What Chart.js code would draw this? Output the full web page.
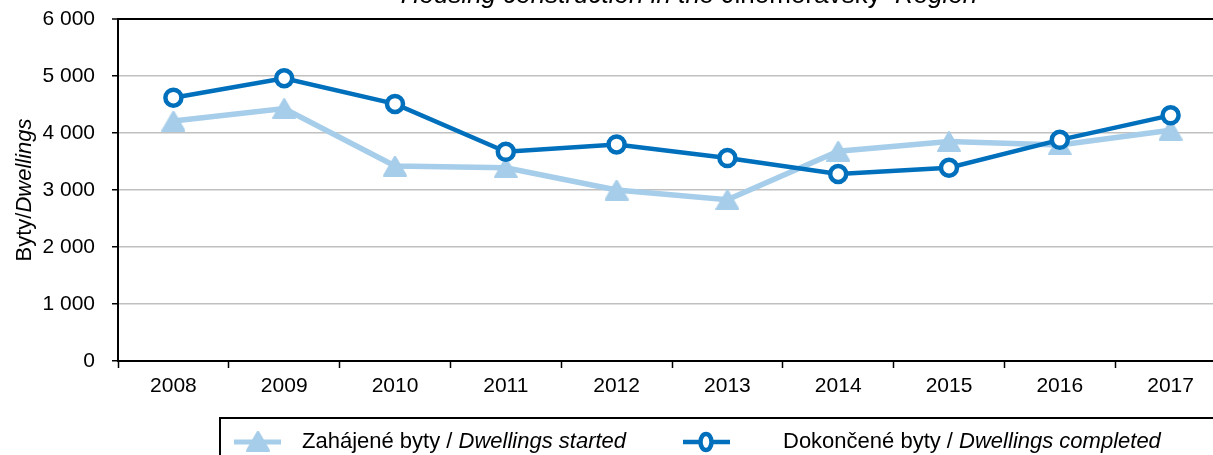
<!DOCTYPE html>
<html lang="cs">
<head>
  <meta charset="UTF-8" />
  <title>Housing construction in the Jihomoravský Region</title>
  <script src="https://cdn.jsdelivr.net/npm/chart.js"></script>
  <style>
    html, body { margin: 0; padding: 0; background: #fff; overflow: hidden; }
    #wrap { width: 1213px; height: 455px; overflow: hidden; }
  </style>
</head>
<body>
  <div id="wrap">
    <canvas id="myChart" width="1240" height="455"></canvas>
  </div>

  <script>
    // data
    const years = ["2008", "2009", "2010", "2011", "2012", "2013", "2014", "2015", "2016", "2017"];
    const started = [4210, 4430, 3420, 3390, 3000, 2830, 3680, 3850, 3790, 4050];
    const completed = [4620, 4960, 4510, 3670, 3800, 3560, 3280, 3390, 3880, 4310];
    const yTicks = [0, 1000, 2000, 3000, 4000, 5000, 6000];

    const LIGHT = "#a6cde9";
    const DARK = "#0070bd";
    const FONT = "'Liberation Sans', Arial, sans-serif";

    // triangle marker centred on its bounding box (like the original)
    function makeTriangle(w, h, color) {
      const c = document.createElement("canvas");
      c.width = w; c.height = h;
      const g = c.getContext("2d");
      g.fillStyle = color;
      g.strokeStyle = color;
      g.lineJoin = "round";
      g.lineWidth = 2;
      g.beginPath();
      g.moveTo(w / 2, 1); g.lineTo(w - 1, h - 1); g.lineTo(1, h - 1);
      g.closePath(); g.fill(); g.stroke();
      return c;
    }
    const triMarker = makeTriangle(24, 21, LIGHT);

    // draws mixed normal / italic text pieces starting at x
    function drawParts(ctx, parts, x, y, size) {
      parts.forEach(([txt, italic]) => {
        ctx.font = (italic ? "italic " : "") + size + "px " + FONT;
        ctx.fillText(txt, x, y);
        x += ctx.measureText(txt).width;
      });
    }
    function partsWidth(ctx, parts, size) {
      let w = 0;
      parts.forEach(([txt, italic]) => {
        ctx.font = (italic ? "italic " : "") + size + "px " + FONT;
        w += ctx.measureText(txt).width;
      });
      return w;
    }

    // title, y-axis title and legend
    const decorations = {
      id: "decorations",
      afterDraw(chart) {
        const ctx = chart.ctx;
        ctx.save();
        ctx.fillStyle = "#000";
        ctx.textBaseline = "alphabetic";

        // title (top is cut off in the original)
        const title = [["Housing construction in the ", true], ["Jihomoravský", false], ["  Region", true]];
        const tw = partsWidth(ctx, title, 26);
        drawParts(ctx, title, 689 - tw / 2, 3, 26);

        // y axis title
        const yt = [["Byty/", false], ["Dwellings", true]];
        ctx.save();
        ctx.translate(31, 190);
        ctx.rotate(-Math.PI / 2);
        const yw = partsWidth(ctx, yt, 22);
        drawParts(ctx, yt, -yw / 2, 0, 22);
        ctx.restore();

        // legend box
        ctx.strokeStyle = "#000";
        ctx.lineWidth = 2;
        ctx.strokeRect(220, 418, 1100, 100);

        const ly = 442;
        // started symbol
        ctx.strokeStyle = LIGHT;
        ctx.lineWidth = 5;
        ctx.beginPath(); ctx.moveTo(234, ly); ctx.lineTo(281, ly); ctx.stroke();
        ctx.drawImage(triMarker, 258 - 12, 441 - 10.5);

        // completed symbol
        ctx.strokeStyle = DARK;
        ctx.lineWidth = 4.5;
        ctx.beginPath(); ctx.moveTo(683, ly); ctx.lineTo(730, ly); ctx.stroke();
        ctx.fillStyle = "#fff";
        ctx.beginPath(); ctx.ellipse(706, ly, 5.5, 8, 0, 0, Math.PI * 2); ctx.fill(); ctx.stroke();

        ctx.fillStyle = "#000";
        drawParts(ctx, [["Zahájené byty / ", false], ["Dwellings started", true]], 302, 448, 22);
        drawParts(ctx, [["Dokončené byty / ", false], ["Dwellings completed", true]], 783, 448, 22);
        ctx.restore();
      }
    };

    const ctx = document.getElementById("myChart").getContext("2d");
    new Chart(ctx, {
      type: "line",
      data: {
        labels: years,
        datasets: [
          {
            label: "Dokončené byty / Dwellings completed",
            data: completed,
            borderColor: DARK,
            backgroundColor: "#fff",
            borderWidth: 4.5,
            pointStyle: "circle",
            pointRadius: 8,
            pointBorderWidth: 4.5,
            tension: 0,
            order: 0
          },
          {
            label: "Zahájené byty / Dwellings started",
            data: started,
            borderColor: LIGHT,
            backgroundColor: LIGHT,
            borderWidth: 5.5,
            pointStyle: triMarker,
            tension: 0,
            order: 1
          }
        ]
      },
      options: {
        responsive: false,
        animation: false,
        layout: { padding: { left: 0, top: 19, right: 14, bottom: 0 } },
        plugins: {
          legend: { display: false },
          tooltip: { enabled: false }
        },
        scales: {
          x: {
            offset: true,
            grid: {
              offset: true,
              drawOnChartArea: false,
              tickLength: 7,
              tickColor: "#000",
              tickWidth: 1.5
            },
            border: { color: "#000", width: 2 },
            ticks: {
              color: "#000",
              font: { family: FONT, size: 21 },
              padding: 6,
              maxRotation: 0
            },
            afterFit(scale) {
              scale.height = 94;
              scale.paddingLeft = 0;
              scale.paddingRight = 0;
            }
          },
          y: {
            min: 0,
            max: 6000,
            afterBuildTicks(scale) { scale.ticks = yTicks.map(v => ({ value: v })); },
            grid: {
              color: (c) => (c.tick && c.tick.value === 6000 ? "#000" : "#c0c0c0"),
              lineWidth: (c) => (c.tick && c.tick.value === 6000 ? 2 : 1.5),
              tickLength: 6,
              tickColor: "#000",
              tickWidth: 1.5
            },
            border: { color: "#000", width: 2 },
            ticks: {
              color: "#000",
              font: { family: FONT, size: 21 },
              padding: 17,
              callback: (v) => String(v).replace(/\B(?=(\d{3})+(?!\d))/g, " ")
            },
            afterFit(scale) {
              scale.width = 118;
              scale.paddingTop = 0;
              scale.paddingBottom = 0;
            }
          }
        }
      },
      plugins: [decorations]
    });
  </script>
</body>
</html>
